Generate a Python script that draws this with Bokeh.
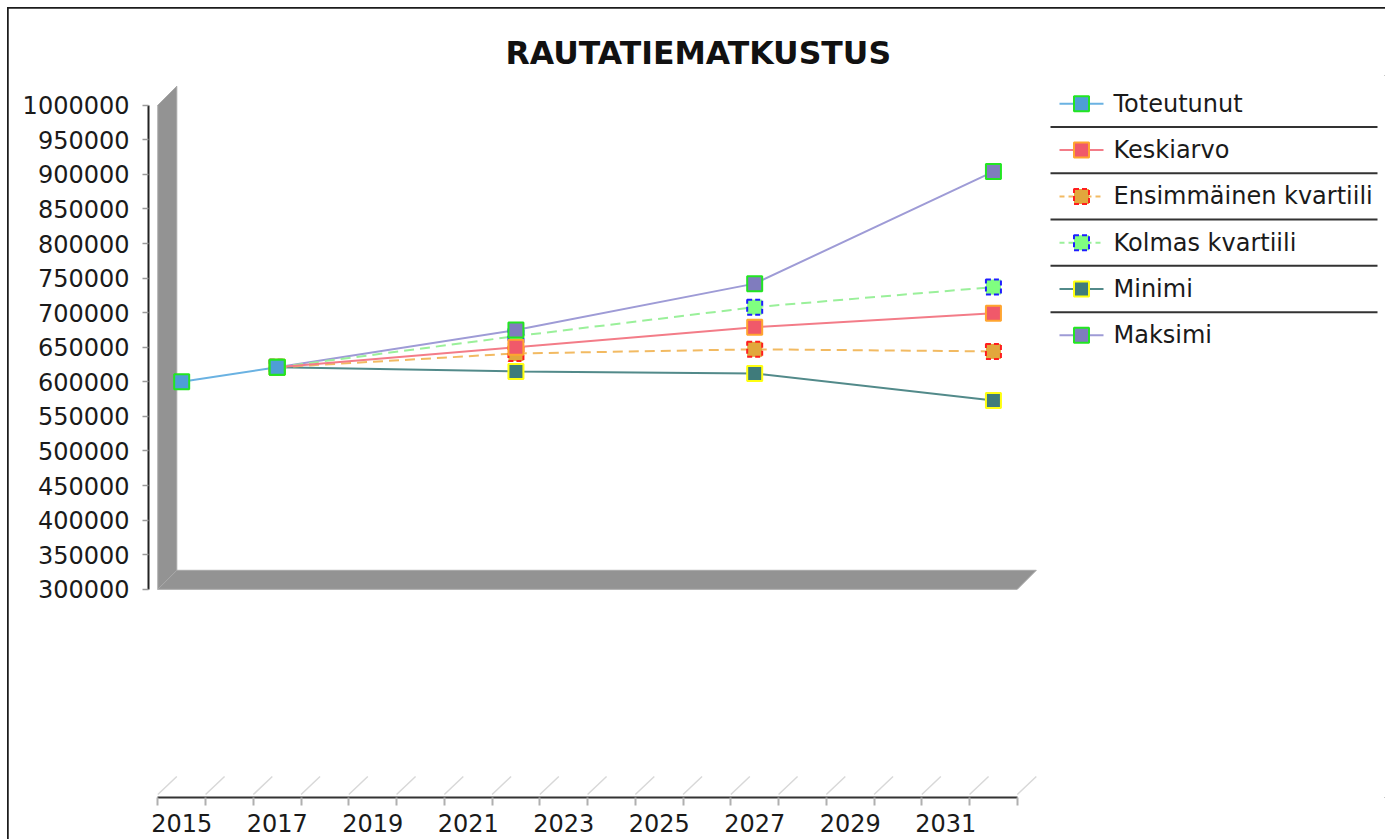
from bokeh.plotting import figure
from bokeh.models import Range1d, FixedTicker, BasicTickFormatter
from bokeh.core.properties import value
from bokeh.embed import file_html
from bokeh.resources import INLINE

# ---------------- data ----------------
title_text = "RAUTATIEMATKUSTUS"
series_names = ["Toteutunut", "Keskiarvo", "Ensimmäinen kvartiili",
                "Kolmas kvartiili", "Minimi", "Maksimi"]
years_actual = [2015, 2017]
toteutunut = [600000, 621000]
years_forecast = [2017, 2022, 2027, 2032]
keskiarvo = [621000, 650000, 679000, 699000]
ensimmainen_kvartiili = [621000, 641000, 647000, 644000]
kolmas_kvartiili = [621000, 666000, 708000, 737000]
minimi = [621000, 615000, 612000, 573000]
maksimi = [621000, 675000, 742000, 904000]
y_tick_values = list(range(300000, 1000001, 50000))
x_label_years = list(range(2015, 2032, 2))
x_year_edges = [y - 0.5 for y in range(2015, 2034)]

# ---------------- styles ----------------
FONT = "DejaVu Sans"
styles = {
    "Toteutunut": dict(line="#6AB2E2", fill="#4E9ED6", edge="#22E622", dash="solid", mdash="solid"),
    "Keskiarvo": dict(line="#F37C88", fill="#F0596A", edge="#FFA530", dash="solid", mdash="solid"),
    "Ensimmäinen kvartiili": dict(line="#F2BA62", fill="#E2A73C", edge="#FF1E1E", dash="10 6", mdash="5 3"),
    "Kolmas kvartiili": dict(line="#9AF09A", fill="#80FF80", edge="#1E1EFF", dash="10 6", mdash="5 3"),
    "Minimi": dict(line="#528A8A", fill="#3F7B7B", edge="#FFFF10", dash="solid", mdash="solid"),
    "Maksimi": dict(line="#9E9BD6", fill="#807CBE", edge="#22E622", dash="solid", mdash="solid"),
}

# ---------------- geometry ----------------
PAGE_OFF = 8                              # figure placed at (8, 8) on the page
W, H = 1377, 831
FRAME_LEFT, FRAME_TOP = 140, 67          # canvas px
FRAME_W, FRAME_H = W - FRAME_LEFT, 722
FRAME_BOTTOM_BORDER = H - FRAME_TOP - FRAME_H
PX_PER_YEAR = 47.75
X_START = 2014.305
X_END = X_START + FRAME_W / PX_PER_YEAR
UNITS_PER_PX = 700000 / 484.1
Y_START = 300000 - 208.2 * UNITS_PER_PX
Y_END = Y_START + FRAME_H * UNITS_PER_PX
DEPTH = 19  # 3D offset in px
DX = DEPTH / PX_PER_YEAR
DY = DEPTH * UNITS_PER_PX

p = figure(width=W, height=H, output_backend="svg", toolbar_location=None,
           x_range=Range1d(X_START, X_END), y_range=Range1d(Y_START, Y_END),
           min_border_left=FRAME_LEFT, min_border_right=0,
           min_border_top=FRAME_TOP, min_border_bottom=FRAME_BOTTOM_BORDER)
p.styles = {"margin-left": f"{PAGE_OFF}px", "margin-top": f"{PAGE_OFF}px",
            "outline": "2px solid #1c1c1c", "outline-offset": "-1px"}
p.background_fill_color = "white"
p.border_fill_color = "white"
p.outline_line_color = None
p.grid.visible = False

# pixel-space ranges for legend decorations (page coordinates)
p.extra_x_ranges = {"px": Range1d(FRAME_LEFT + PAGE_OFF, W + PAGE_OFF)}
p.extra_y_ranges = {"py": Range1d(FRAME_TOP + PAGE_OFF + FRAME_H, FRAME_TOP + PAGE_OFF)}

# title
p.title.text = title_text
p.title.text_font = FONT
p.title.text_font_style = "bold"
p.title.text_font_size = "31.5px"
p.title.text_color = "#111111"
p.title.align = "left"
p.title.offset = 357

# ---------------- 3D walls ----------------
x_lo, x_hi = x_year_edges[0], x_year_edges[-1]
y_lo, y_hi = y_tick_values[0], y_tick_values[-1]
wall_color = "#939393"
p.patch([x_lo, x_lo, x_lo + DX, x_lo + DX], [y_lo, y_hi, y_hi + DY, y_lo + DY],
        fill_color=wall_color, line_color="#a8a8a8", line_width=1)
p.patch([x_lo, x_hi, x_hi + DX, x_lo + DX], [y_lo, y_lo, y_lo + DY, y_lo + DY],
        fill_color=wall_color, line_color="#a8a8a8", line_width=1)

# faint 3D grid stubs above the time axis
stub_y0 = Y_START + 3 * UNITS_PER_PX
p.segment(x0=x_year_edges, y0=[stub_y0] * len(x_year_edges),
          x1=[t + DX for t in x_year_edges], y1=[stub_y0 + (DEPTH - 1) * UNITS_PER_PX] * len(x_year_edges),
          line_color="#d8d8d8", line_width=1.5)

# ---------------- series ----------------
series = [
    ("Toteutunut", years_actual, toteutunut),
    ("Keskiarvo", years_forecast, keskiarvo),
    ("Ensimmäinen kvartiili", years_forecast, ensimmainen_kvartiili),
    ("Kolmas kvartiili", years_forecast, kolmas_kvartiili),
    ("Minimi", years_forecast, minimi),
    ("Maksimi", years_forecast, maksimi),
]
lookup = {n: (xs, ys) for n, xs, ys in series}

for name in ["Maksimi", "Minimi", "Kolmas kvartiili", "Ensimmäinen kvartiili", "Keskiarvo", "Toteutunut"]:
    xs, ys = lookup[name]
    s = styles[name]
    p.line(xs, ys, line_color=s["line"], line_width=2, line_dash=s["dash"])

marker_order = ["Ensimmäinen kvartiili", "Kolmas kvartiili", "Minimi", "Keskiarvo", "Maksimi", "Toteutunut"]
for name in marker_order:
    xs, ys = lookup[name]
    s = styles[name]
    p.scatter(xs, ys, marker="square", size=15, fill_color=s["fill"],
              line_color=s["edge"], line_width=2, line_dash=s["mdash"])

# ---------------- legend (drawn in pixel space) ----------------
LEG_Y0, LEG_STEP = 103.3, 46.3
for i, name in enumerate(series_names):
    s = styles[name]
    yy = LEG_Y0 + i * LEG_STEP
    p.line([1059, 1103], [yy, yy], x_range_name="px", y_range_name="py",
           line_color=s["line"], line_width=2, line_dash=("5 4" if s["dash"] != "solid" else "solid"))
    p.scatter([1081], [yy], x_range_name="px", y_range_name="py", marker="square", size=15,
              fill_color=s["fill"], line_color=s["edge"], line_width=2, line_dash=s["mdash"])
    p.text([1113], [yy], text=[name], x_range_name="px", y_range_name="py",
           text_font=value(FONT), text_font_size="24px", text_baseline="middle",
           text_align="left", text_color="#1a1a1a")
    if i < len(series_names) - 1:
        sy = yy + LEG_STEP / 2
        p.line([1050, 1377], [sy, sy], x_range_name="px", y_range_name="py",
               line_color="#333333", line_width=2)

# ---------------- axes ----------------
ya = p.yaxis[0]
ya.ticker = FixedTicker(ticks=y_tick_values)
ya.formatter = BasicTickFormatter(use_scientific=False)
ya.bounds = (y_lo, y_hi)
ya.axis_line_color = "#222222"
ya.axis_line_width = 2
ya.major_tick_out = 6
ya.major_tick_in = 0
ya.major_tick_line_color = "#9a9a9a"
ya.major_tick_line_width = 1.5
ya.minor_tick_line_color = None
ya.major_label_standoff = 13
ya.major_label_text_font = FONT
ya.major_label_text_font_size = "24px"
ya.major_label_text_color = "#1a1a1a"

xa = p.xaxis[0]
xa.ticker = FixedTicker(ticks=x_label_years, minor_ticks=x_year_edges)
xa.bounds = (x_lo, x_hi)
xa.axis_line_color = "#333333"
xa.axis_line_width = 2
xa.major_tick_out = 0
xa.major_tick_in = 0
xa.minor_tick_out = 8
xa.minor_tick_in = 0
xa.minor_tick_line_color = "#b0b0b0"
xa.minor_tick_line_width = 2
xa.major_label_standoff = 8
xa.major_label_text_font = FONT
xa.major_label_text_font_size = "24px"
xa.major_label_text_color = "#1a1a1a"

open("out.html", "w").write(file_html(p, INLINE))
